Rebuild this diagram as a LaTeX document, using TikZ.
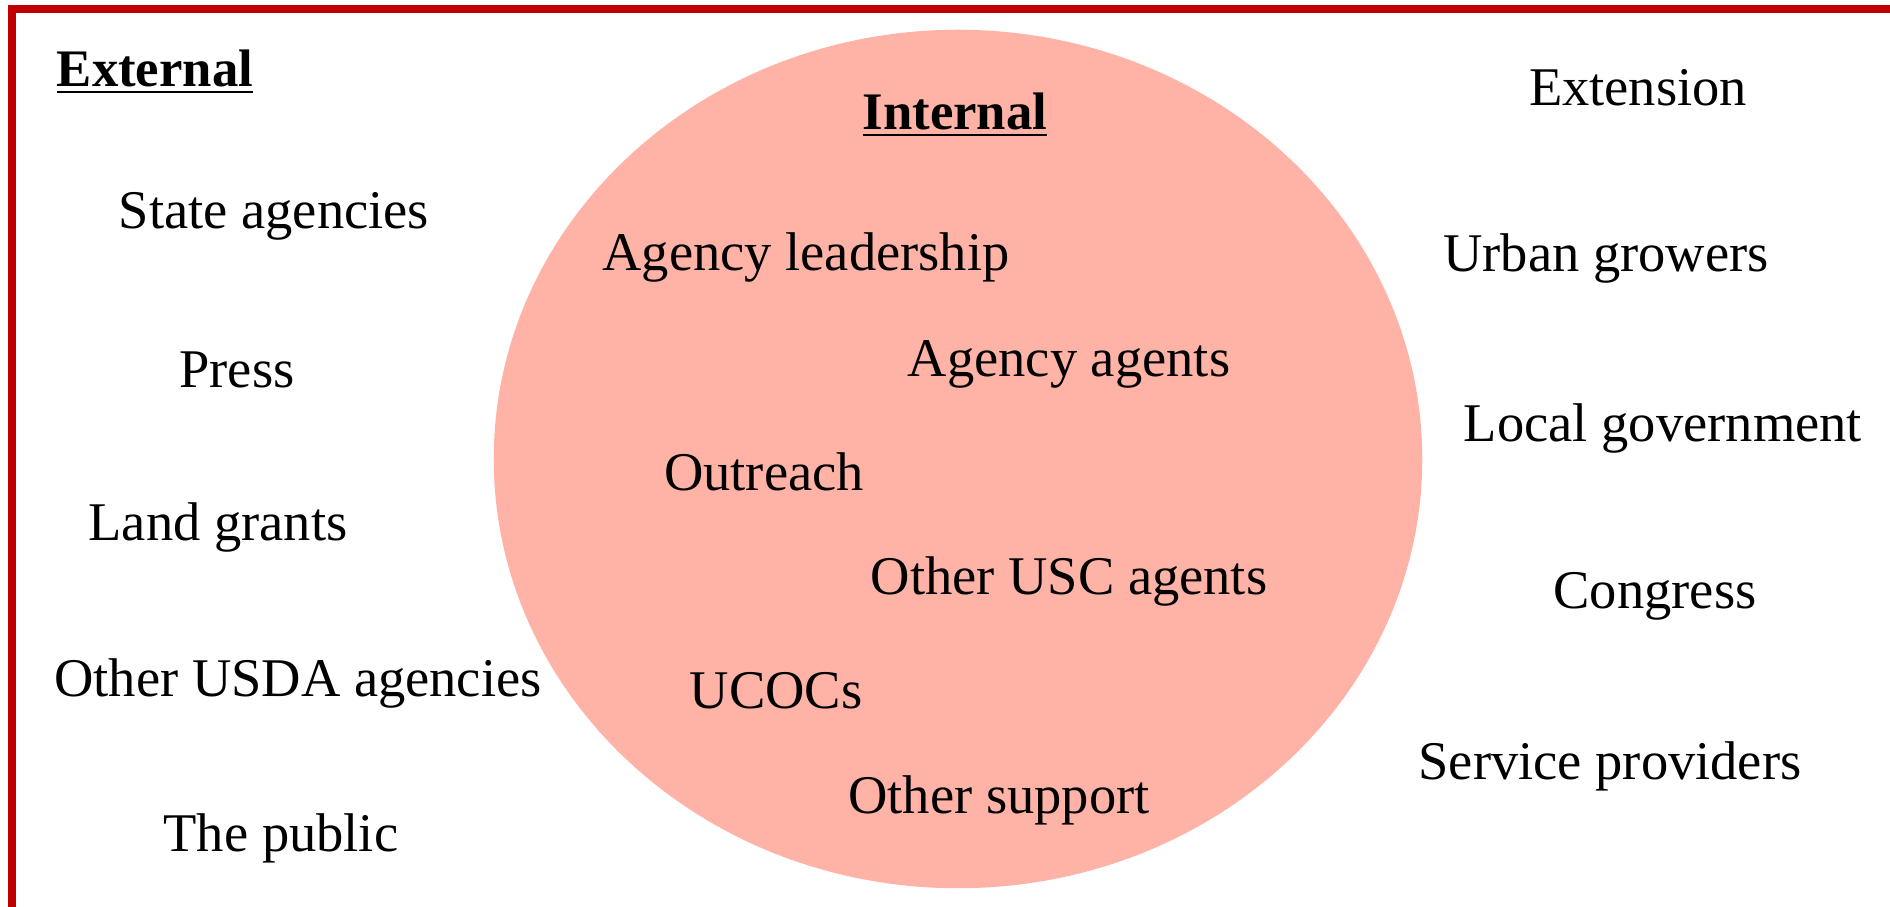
\documentclass[tikz,border=0pt]{standalone}
\usepackage{fontspec}
\setmainfont{Liberation Serif}
\usetikzlibrary{shapes.geometric}
\definecolor{frame}{HTML}{C00000}
\definecolor{blob}{HTML}{FFB3A7}
\begin{document}
\begin{tikzpicture}[x=0.01cm,y=-0.01cm,
  lbl/.style={inner sep=0pt,font=\fontsize{15.5}{18}\selectfont},
  ttl/.style={inner sep=0pt,font=\fontsize{15}{18}\selectfont\bfseries}]
\useasboundingbox (0,0) rectangle (1890,907);
\fill[white] (0,0) rectangle (1890,907);
\draw[frame,line width=0.08cm] (12,930) -- (12,9) -- (1900,9);
\node[ellipse,fill=blob,minimum width=9.28cm,minimum height=8.58cm,inner sep=0pt] (circ) at (958,459) {};
\node[ttl] (ext) at (155,72) {\underline{External}};
\node[ttl] (int) at (955,115) {\underline{Internal}};
\node[lbl] (e1) at (274,216) {State agencies};
\node[lbl] (e2) at (237,370) {Press};
\node[lbl] (e3) at (218,527) {Land grants};
\node[lbl] (e4) at (298,683) {Other USDA agencies};
\node[lbl] (e5) at (281,838) {The public};
\node[lbl] (i1) at (806,257) {Agency leadership};
\node[lbl] (i2) at (1069,364) {Agency agents};
\node[lbl] (i3) at (764,472) {Outreach};
\node[lbl] (i4) at (1069,581) {Other USC agents};
\node[lbl] (i5) at (776,691) {UCOCs};
\node[lbl] (i6) at (999,800) {Other support};
\node[lbl] (r1) at (1638,88) {Extension};
\node[lbl] (r2) at (1606,258) {Urban growers};
\node[lbl] (r3) at (1663,428) {Local government};
\node[lbl] (r4) at (1655,596) {Congress};
\node[lbl] (r5) at (1610,766) {Service providers};
\end{tikzpicture}
\end{document}
